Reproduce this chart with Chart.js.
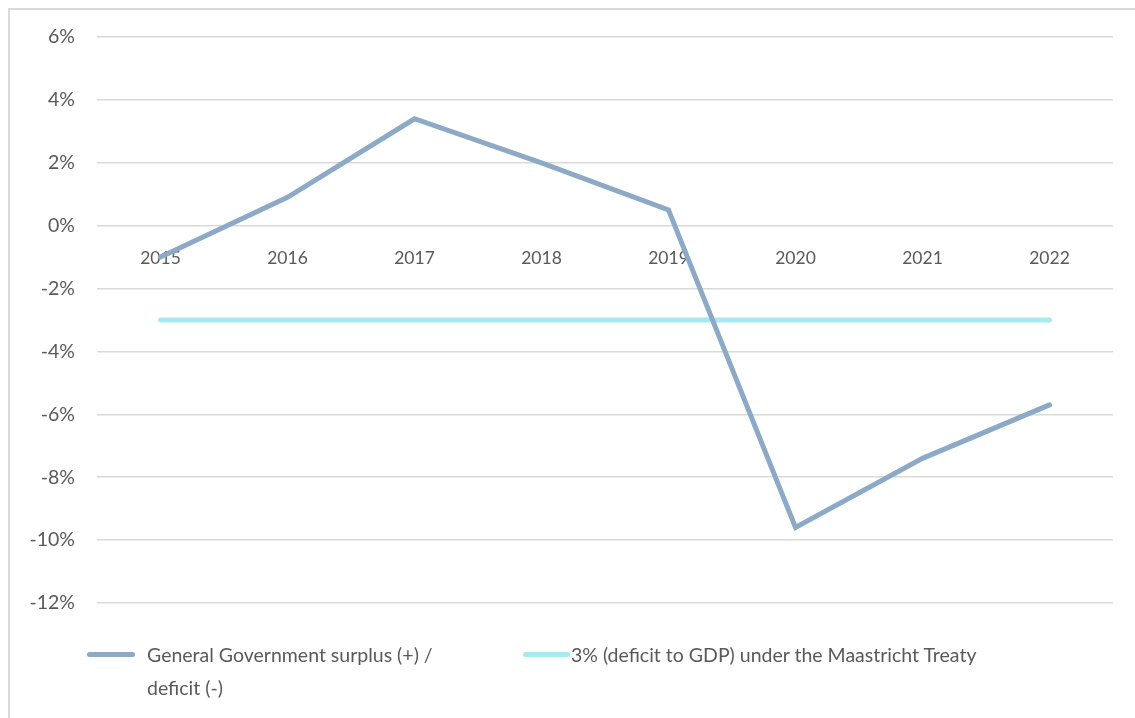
<!DOCTYPE html>
<html>
<head>
<meta charset="utf-8">
<script src="https://cdn.jsdelivr.net/npm/chart.js@4/dist/chart.umd.min.js"></script>
<style>
  html, body { margin: 0; padding: 0; background: #fff; }
  body { width: 1135px; height: 718px; position: relative; overflow: hidden; font-family: Lato, "Open Sans", sans-serif; }
  #frame { position: absolute; left: 8px; top: 8px; width: 1200px; height: 800px; border: 2px solid #d9d9d9; box-sizing: border-box; }
  #wrap { position: absolute; left: 0; top: 0; width: 1135px; height: 718px; }
  #legend { position: absolute; left: 0; top: 0; width: 1135px; height: 718px; pointer-events: none; color: #595959; font-size: 19.5px; }
  .item { position: absolute; display: flex; align-items: flex-start; }
  .swatch { height: 5px; border-radius: 3px; margin-top: 12px; }
  .text { line-height: 33px; margin-top: -2px; }
</style>
</head>
<body>
<div id="frame"></div>
<div id="wrap"><canvas id="c" width="1135" height="718"></canvas></div>
<div id="legend"></div>
<script>
// Fiscal balance as share of GDP
const years = ['2015', '2016', '2017', '2018', '2019', '2020', '2021', '2022'];
const balance = [-1.0, 0.9, 3.4, 2.0, 0.5, -9.6, -7.4, -5.7];
const maastricht = [-3, -3, -3, -3, -3, -3, -3, -3];
const seriesLabels = ['General Government surplus (+) / deficit (-)', '3% (deficit to GDP) under the Maastricht Treaty'];
const seriesColors = ['#8CA9C5', '#A6E9EF'];

const textColor = '#595959';
const ctx = document.getElementById('c').getContext('2d');
const chart = new Chart(ctx, {
  type: 'line',
  data: {
    labels: years,
    datasets: [
      { label: seriesLabels[0], data: balance, borderColor: seriesColors[0], borderWidth: 5, pointRadius: 0, tension: 0, borderCapStyle: 'round' },
      { label: seriesLabels[1], data: maastricht, borderColor: seriesColors[1], borderWidth: 5, pointRadius: 0, tension: 0, borderCapStyle: 'round' }
    ]
  },
  options: {
    responsive: false,
    animation: false,
    layout: { padding: { top: 37, bottom: 115, right: 22, left: 0 } },
    plugins: { legend: { display: false }, tooltip: { enabled: false } },
    scales: {
      x: {
        position: { y: 0 },
        offset: true,
        grid: { display: false, drawTicks: false },
        border: { display: false },
        ticks: { color: textColor, font: { family: 'Lato', size: 17.5 }, padding: 22, maxRotation: 0 }
      },
      y: {
        min: -12, max: 6,
        grid: { color: '#d9d9d9', lineWidth: 1.5, drawTicks: false },
        border: { display: false },
        ticks: { stepSize: 2, color: textColor, font: { family: 'Lato', size: 19.5 }, padding: 22, callback: v => v + '%' },
        afterFit: s => { s.width = 97; }
      }
    }
  }
});

// Legend below the plot
const legend = document.getElementById('legend');
const legendItems = [
  { left: 87, swatch: 48, gap: 12, textWidth: 300 },
  { left: 523, swatch: 47, gap: 1, textWidth: 420 }
];
chart.data.datasets.forEach((ds, i) => {
  const cfg = legendItems[i];
  const item = document.createElement('div');
  item.className = 'item';
  item.style.left = cfg.left + 'px';
  item.style.top = '640px';
  const sw = document.createElement('div');
  sw.className = 'swatch';
  sw.style.width = cfg.swatch + 'px';
  sw.style.background = ds.borderColor;
  sw.style.marginRight = cfg.gap + 'px';
  const tx = document.createElement('div');
  tx.className = 'text';
  tx.style.width = cfg.textWidth + 'px';
  tx.textContent = ds.label;
  item.appendChild(sw);
  item.appendChild(tx);
  legend.appendChild(item);
});
</script>
</body>
</html>
